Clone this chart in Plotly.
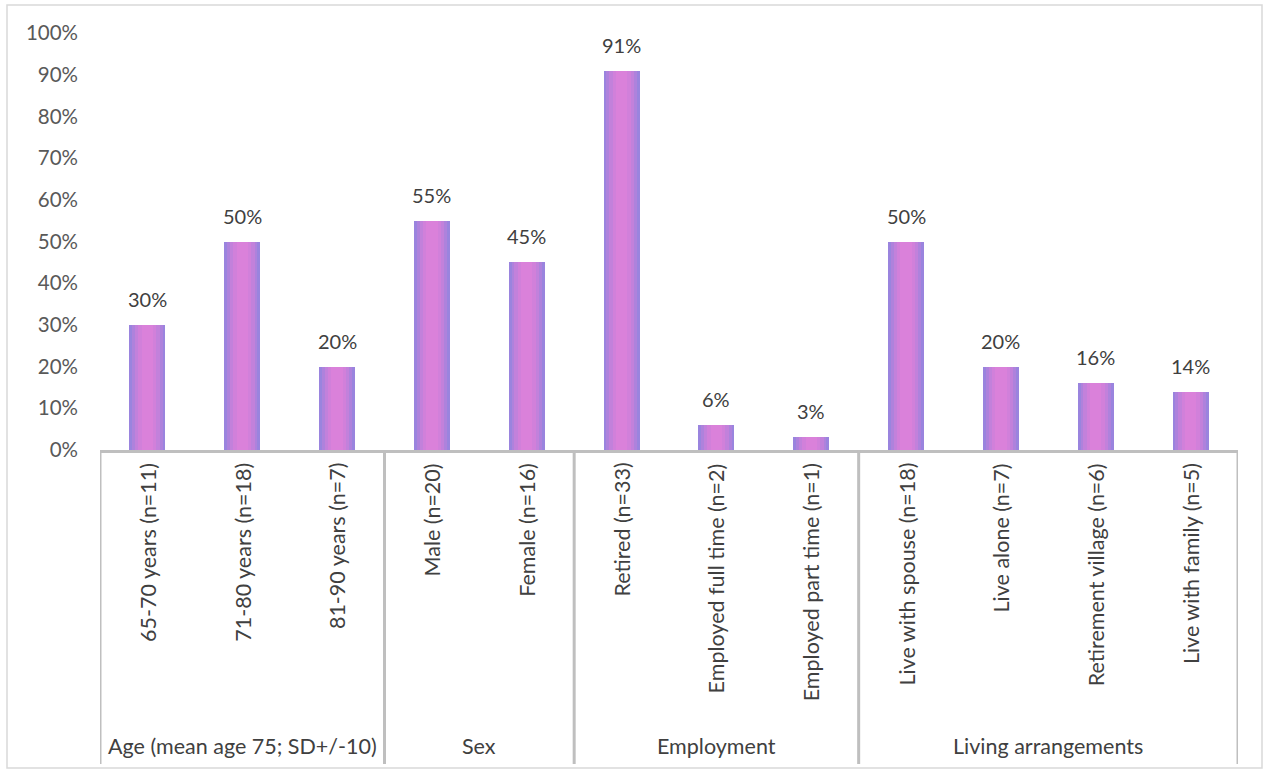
import plotly.graph_objects as go

categories = ["65-70 years (n=11)", "71-80 years (n=18)", "81-90 years (n=7)",
              "Male (n=20)", "Female (n=16)",
              "Retired (n=33)", "Employed full time (n=2)", "Employed part time (n=1)",
              "Live with spouse (n=18)", "Live alone (n=7)", "Retirement village (n=6)", "Live with family (n=5)"]
values = [0.30, 0.50, 0.20, 0.55, 0.45, 0.91, 0.06, 0.03, 0.50, 0.20, 0.16, 0.14]
value_labels = ["30%", "50%", "20%", "55%", "45%", "91%", "6%", "3%", "50%", "20%", "16%", "14%"]
groups = ["Age (mean age 75; SD+/-10)", "Sex", "Employment", "Living arrangements"]
group_sizes = [3, 2, 3, 4]
y_ticks = [0, 0.1, 0.2, 0.3, 0.4, 0.5, 0.6, 0.7, 0.8, 0.9, 1.0]
y_tick_labels = ["0%", "10%", "20%", "30%", "40%", "50%", "60%", "70%", "80%", "90%", "100%"]

FONT = "Lato"
TXT = "#404040"
LINE = "#bfbfbf"

x = list(range(len(categories)))
fig = go.Figure()

# layered bars to imitate the pink-centre / purple-edge gradient fill
layers = [(0.38, "#9a84de"), (0.32, "#ae82dc"), (0.26, "#c281db"), (0.19, "#d180da"), (0.12, "#da81da")]
for w, c in layers:
    fig.add_trace(go.Bar(x=x, y=values, width=w, marker=dict(color=c, line=dict(width=0)),
                         hoverinfo="skip", showlegend=False))

# value labels
for xi, v, t in zip(x, values, value_labels):
    fig.add_annotation(x=xi, y=v, xref="x", yref="y", text=t, showarrow=False,
                       yanchor="middle", yshift=26, font=dict(family=FONT, size=20, color=TXT))

# rotated category labels
for xi, c in zip(x, categories):
    fig.add_annotation(x=xi, y=0, xref="x", yref="paper", text=c, showarrow=False, textangle=-90,
                       xanchor="center", yanchor="top", yshift=-11,
                       font=dict(family=FONT, size=21.5, color=TXT))

# group labels and divider lines
plot_h = 450 - 33
bottom = -(764 - 450) / plot_h
start = -0.5
bounds = [start]
for g, n in zip(groups, group_sizes):
    end = start + n
    fig.add_annotation(x=(start + end) / 2, y=0, xref="x", yref="paper", text=g, showarrow=False,
                       xanchor="center", yanchor="middle", yshift=-(746 - 450),
                       font=dict(family=FONT, size=21.5, color=TXT))
    bounds.append(end)
    start = end
for b in bounds:
    fig.add_shape(type="line", xref="x", yref="paper", x0=b, x1=b, y0=0, y1=bottom,
                  line=dict(color=LINE, width=3))

# outer chart border
fig.add_shape(type="rect", xref="paper", yref="paper",
              x0=-(100 - 7) / (1238 - 100), x1=(1262 - 100) / (1238 - 100),
              y0=-(768 - 450) / plot_h, y1=(450 - 5) / plot_h,
              line=dict(color="#d9d9d9", width=1.5))

fig.update_layout(
    width=1266, height=772,
    margin=dict(l=100, r=28, t=33, b=322),
    barmode="overlay", bargap=0,
    plot_bgcolor="white", paper_bgcolor="white",
    font=dict(family=FONT, color=TXT),
    xaxis=dict(range=[-0.5, len(categories) - 0.5], showticklabels=False, showgrid=False,
               zeroline=False, showline=True, linecolor=LINE, linewidth=3, ticks=""),
    yaxis=dict(range=[0, 1], tickvals=y_ticks, ticktext=y_tick_labels, showgrid=False,
               zeroline=False, showline=False, ticks="", ticklabelstandoff=21,
               tickfont=dict(family=FONT, size=20.5, color="#595959")),
)

fig.write_html("out.html", config={"displayModeBar": False},
               post_script="document.body.style.margin='0';document.body.style.overflow='hidden';")
